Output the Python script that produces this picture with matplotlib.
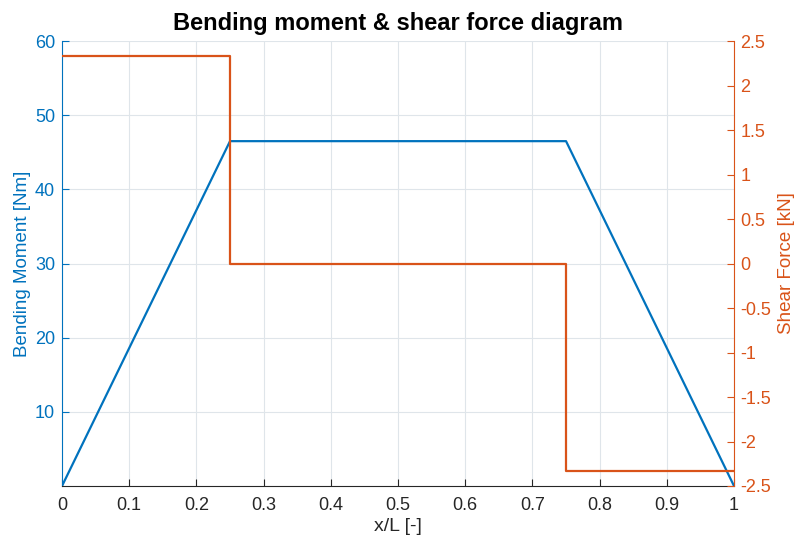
import matplotlib.pyplot as plt
import numpy as np

plt.rcParams['font.family'] = ['Liberation Sans', 'DejaVu Sans']

# beam positions and results
x_pos = [0, 0.25, 0.75, 1.0]
moment = [0, 46.5, 46.5, 0]
shear_x = [0, 0.25, 0.25, 0.75, 0.75, 1.0]
shear = [2.33, 2.33, 0, 0, -2.33, -2.33]

blue = '#0072BD'
orange = '#D95319'
grid_c = '#dfe5ea'

fig = plt.figure(figsize=(7.97, 5.4), dpi=100)
ax1 = fig.add_axes([0.0778, 0.1, 0.8432, 0.824])
ax2 = ax1.twinx()

ax1.plot(x_pos, moment, color=blue, lw=1.6)
ax2.plot(shear_x, shear, color=orange, lw=1.6)

ax1.set_xlim(0, 1)
ax1.set_ylim(0, 60)
ax2.set_ylim(-2.5, 2.5)
ax1.set_xticks(np.arange(0, 1.01, 0.1))
ax1.set_xticklabels(['0', '0.1', '0.2', '0.3', '0.4', '0.5', '0.6', '0.7', '0.8', '0.9', '1'])
ax1.set_yticks([10, 20, 30, 40, 50, 60])
rt = np.arange(-2.5, 2.51, 0.5)
ax2.set_yticks(rt)
ax2.set_yticklabels(['%g' % v for v in rt])

ax1.grid(True, color=grid_c, lw=0.8)
ax1.set_axisbelow(True)

for ax in (ax1, ax2):
    ax.tick_params(direction='in', length=5, labelsize=13)
    ax.spines['top'].set_visible(False)
ax1.tick_params(axis='x', colors='#262626', width=0.8, pad=8)
ax1.tick_params(axis='y', colors=blue, labelcolor=blue, pad=5)
ax2.tick_params(axis='y', colors=orange, labelcolor=orange, pad=4.5)
ax1.spines['left'].set_color(blue)
ax2.spines['left'].set_visible(False)
ax2.spines['right'].set_color(orange)
ax1.spines['right'].set_visible(False)
ax1.spines['bottom'].set_color('#262626')
ax2.spines['bottom'].set_visible(False)

ax1.set_xlabel('x/L [-]', fontsize=14, color='#262626', labelpad=3)
ax1.set_ylabel('Bending Moment [Nm]', fontsize=13.5, color=blue, labelpad=3)
ax2.set_ylabel('Shear Force [kN]', fontsize=13.5, color=orange, labelpad=5)
ax1.set_title('Bending moment & shear force diagram', fontsize=17, fontweight='bold', pad=8)

fig.savefig('out.png', dpi=100)
